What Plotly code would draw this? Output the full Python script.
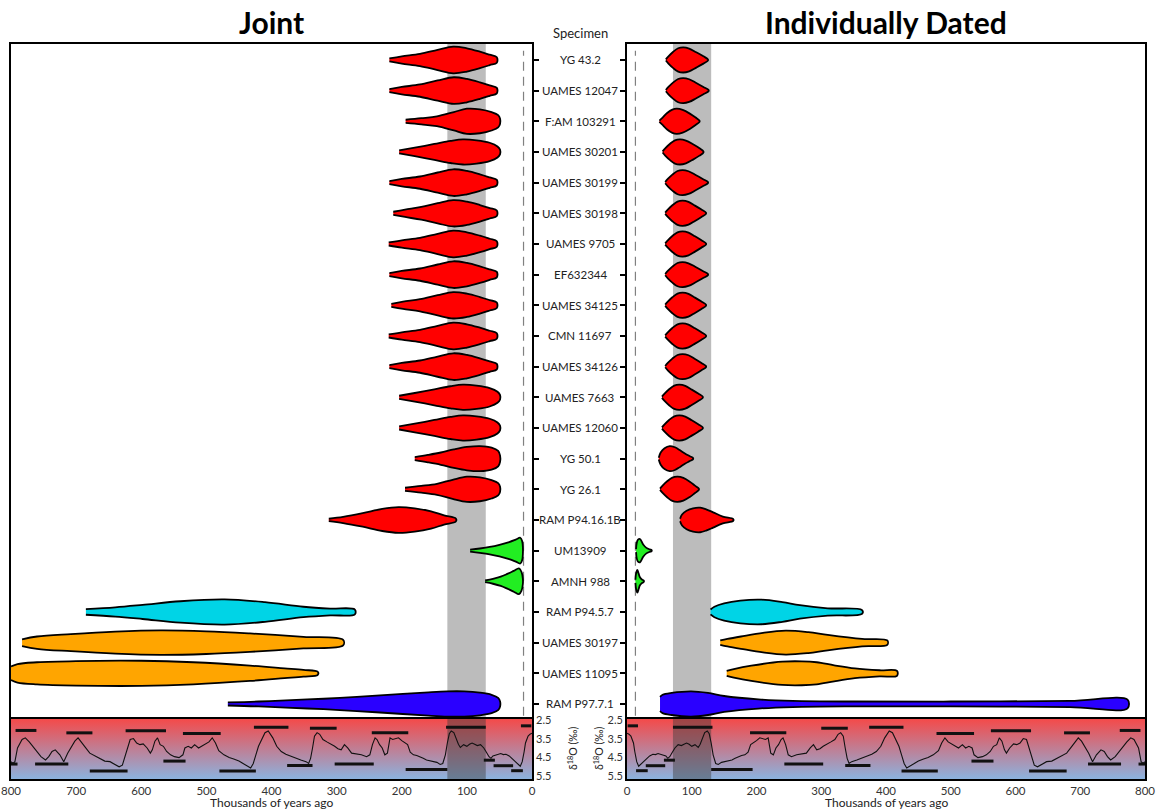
import plotly.graph_objects as go

W, H = 1156, 809

# ---------------- data ----------------
specimens = ["YG 43.2", "UAMES 12047", "F:AM 103291", "UAMES 30201", "UAMES 30199",
             "UAMES 30198", "UAMES 9705", "EF632344", "UAMES 34125", "CMN 11697",
             "UAMES 34126", "UAMES 7663", "UAMES 12060", "YG 50.1", "YG 26.1",
             "RAM P94.16.1B", "UM13909", "AMNH 988", "RAM P94.5.7", "UAMES 30197",
             "UAMES 11095", "RAM P97.7.1"]
colors = ["#ff0000"] * 16 + ["#22ee22"] * 2 + ["#00d4e6", "#ffa500", "#ffa500", "#2a00ff"]

# Joint: age knots (kyr) and half-widths (row units)
joint_ages = [
    [219, 200, 172, 145, 121, 100, 80, 65, 54],
    [219, 200, 172, 145, 120, 100, 80, 65, 54],
    [194, 170, 146, 120, 100, 80, 62, 52, 49],
    [204, 180, 150, 125, 106, 85, 65, 53, 49],
    [219, 200, 172, 145, 121, 100, 80, 65, 54],
    [213, 195, 170, 145, 121, 100, 80, 65, 54],
    [220, 200, 172, 145, 121, 100, 80, 65, 54],
    [219, 200, 172, 145, 121, 100, 80, 65, 54],
    [216, 198, 172, 145, 121, 100, 80, 65, 54],
    [220, 200, 172, 145, 121, 100, 80, 65, 54],
    [219, 200, 172, 145, 121, 100, 80, 65, 54],
    [204, 180, 150, 125, 106, 85, 65, 53, 49],
    [204, 180, 150, 125, 106, 85, 65, 53, 49],
    [180, 160, 140, 120, 100, 80, 62, 52, 49],
    [195, 170, 146, 122, 100, 80, 62, 52, 49],
    [312, 290, 260, 230, 205, 180, 155, 135, 117],
    [95, 80, 65, 50, 35, 25, 18, 15, 14],
    [72, 60, 48, 38, 28, 20, 16, 14],
    [685, 640, 598, 540, 472, 410, 351, 310, 272],
    [783, 760, 708, 640, 570, 500, 433, 351, 290],
    [800, 790, 760, 700, 600, 520, 433, 380, 351, 329],
    [467, 420, 378, 320, 269, 210, 159, 130, 104, 80, 62, 52, 49],
]
joint_hw = [
    [0.05, 0.12, 0.20, 0.33, 0.435, 0.38, 0.27, 0.17, 0.09],
    [0.05, 0.12, 0.20, 0.33, 0.435, 0.38, 0.27, 0.17, 0.09],
    [0.05, 0.10, 0.16, 0.30, 0.41, 0.39, 0.30, 0.20, 0.08],
    [0.05, 0.14, 0.26, 0.36, 0.41, 0.38, 0.30, 0.18, 0.07],
    [0.05, 0.12, 0.20, 0.33, 0.435, 0.38, 0.27, 0.17, 0.09],
    [0.05, 0.12, 0.21, 0.33, 0.43, 0.38, 0.27, 0.17, 0.09],
    [0.05, 0.12, 0.20, 0.33, 0.435, 0.38, 0.27, 0.17, 0.09],
    [0.05, 0.12, 0.20, 0.33, 0.435, 0.38, 0.27, 0.17, 0.09],
    [0.05, 0.12, 0.20, 0.33, 0.43, 0.38, 0.27, 0.17, 0.09],
    [0.05, 0.12, 0.20, 0.33, 0.435, 0.38, 0.27, 0.17, 0.09],
    [0.05, 0.12, 0.20, 0.33, 0.435, 0.38, 0.27, 0.17, 0.09],
    [0.05, 0.14, 0.26, 0.36, 0.41, 0.38, 0.30, 0.18, 0.07],
    [0.05, 0.14, 0.26, 0.36, 0.41, 0.38, 0.30, 0.18, 0.07],
    [0.05, 0.12, 0.20, 0.30, 0.38, 0.41, 0.36, 0.25, 0.10],
    [0.05, 0.11, 0.18, 0.31, 0.41, 0.39, 0.30, 0.20, 0.08],
    [0.04, 0.10, 0.22, 0.36, 0.42, 0.38, 0.28, 0.15, 0.05],
    [0.03, 0.07, 0.12, 0.19, 0.28, 0.36, 0.42, 0.30, 0.10],
    [0.03, 0.08, 0.15, 0.24, 0.34, 0.42, 0.30, 0.08],
    [0.09, 0.15, 0.23, 0.35, 0.41, 0.32, 0.17, 0.11, 0.08],
    [0.11, 0.20, 0.28, 0.36, 0.40, 0.37, 0.30, 0.19, 0.09],
    [0.22, 0.30, 0.36, 0.40, 0.41, 0.36, 0.25, 0.16, 0.11, 0.05],
    [0.05, 0.08, 0.12, 0.17, 0.23, 0.31, 0.38, 0.41, 0.41, 0.37, 0.30, 0.20, 0.08],
]

# Individually dated
indiv_ages = [
    [60, 64, 71, 79, 87, 96, 107, 118, 125],
    [60, 64, 71, 79, 87, 96, 107, 118, 126],
    [50, 55, 62, 70, 77, 86, 97, 106, 112],
    [55, 59, 66, 74, 82, 91, 102, 112, 118],
    [59, 63, 70, 78, 86, 95, 106, 117, 125],
    [59, 63, 70, 78, 86, 95, 105, 115, 122],
    [59, 63, 70, 78, 86, 95, 105, 115, 122],
    [59, 63, 70, 78, 86, 95, 106, 117, 125],
    [59, 63, 70, 78, 86, 95, 105, 115, 122],
    [59, 63, 70, 78, 86, 95, 105, 115, 122],
    [59, 63, 70, 78, 86, 95, 105, 115, 122],
    [54, 58, 65, 73, 81, 90, 100, 110, 117],
    [54, 58, 65, 73, 81, 90, 100, 110, 117],
    [49, 52, 58, 66, 74, 82, 90, 97, 102],
    [51, 55, 62, 70, 78, 87, 97, 105, 111],
    [82, 85, 92, 102, 113, 123, 133, 148, 164],
    [14, 15, 17, 20, 25, 30, 35, 38],
    [13, 14, 16, 18, 20, 23, 26],
    [129, 135, 150, 175, 208, 240, 267, 310, 363],
    [144, 155, 176, 210, 245, 280, 310, 363, 402],
    [154, 165, 192, 240, 270, 293, 320, 352, 390, 417],
    [51, 55, 69, 99, 125, 150, 203, 256, 350, 500, 684, 773],
]
indiv_hw = [
    [0.02, 0.12, 0.26, 0.38, 0.41, 0.37, 0.25, 0.12, 0.02],
    [0.02, 0.12, 0.26, 0.38, 0.41, 0.37, 0.25, 0.12, 0.02],
    [0.02, 0.12, 0.27, 0.38, 0.41, 0.37, 0.25, 0.12, 0.02],
    [0.02, 0.12, 0.26, 0.38, 0.41, 0.37, 0.25, 0.12, 0.02],
    [0.02, 0.12, 0.26, 0.38, 0.41, 0.37, 0.25, 0.12, 0.02],
    [0.02, 0.12, 0.26, 0.38, 0.41, 0.37, 0.25, 0.12, 0.02],
    [0.02, 0.12, 0.26, 0.38, 0.41, 0.37, 0.25, 0.12, 0.02],
    [0.02, 0.12, 0.26, 0.38, 0.41, 0.37, 0.25, 0.12, 0.02],
    [0.02, 0.12, 0.26, 0.38, 0.41, 0.37, 0.25, 0.12, 0.02],
    [0.02, 0.12, 0.26, 0.38, 0.41, 0.37, 0.25, 0.12, 0.02],
    [0.02, 0.12, 0.26, 0.38, 0.41, 0.37, 0.25, 0.12, 0.02],
    [0.02, 0.12, 0.26, 0.38, 0.41, 0.37, 0.25, 0.12, 0.02],
    [0.02, 0.12, 0.26, 0.38, 0.41, 0.37, 0.25, 0.12, 0.02],
    [0.03, 0.20, 0.34, 0.41, 0.37, 0.27, 0.16, 0.08, 0.02],
    [0.02, 0.12, 0.26, 0.38, 0.41, 0.37, 0.25, 0.12, 0.02],
    [0.04, 0.18, 0.30, 0.38, 0.40, 0.34, 0.25, 0.11, 0.03],
    [0.05, 0.25, 0.36, 0.38, 0.20, 0.09, 0.04, 0.02],
    [0.05, 0.25, 0.37, 0.25, 0.13, 0.06, 0.02],
    [0.08, 0.17, 0.28, 0.37, 0.40, 0.32, 0.22, 0.12, 0.06],
    [0.07, 0.12, 0.20, 0.32, 0.39, 0.34, 0.25, 0.12, 0.07],
    [0.08, 0.14, 0.25, 0.38, 0.39, 0.36, 0.26, 0.16, 0.10, 0.08],
    [0.23, 0.30, 0.36, 0.41, 0.36, 0.26, 0.15, 0.10, 0.08, 0.08, 0.10, 0.14],
]

# Last interglacial band and dashed reference (kyr)
band_start, band_end = 71, 130
dashed_age = 13

# benthic d18O record (kyr, per mil) read from the strip
d18o_age = [0, 3, 6, 10, 12, 15, 18, 21, 25, 30, 35, 40, 44, 48, 52, 56, 60, 63, 66, 70,
            74, 79, 84, 88, 92, 96, 100, 105, 110, 113, 116, 120, 124, 127, 130, 133, 137,
            141, 146, 151, 156, 162, 167, 172, 177, 182, 187, 191, 195, 200, 205, 210, 214,
            218, 222, 226, 230, 234, 238, 241, 245, 249, 254, 262, 270, 277, 283, 288, 293,
            298, 303, 308, 315, 321, 326, 330, 334, 337, 340, 343, 347, 355, 362, 370, 378,
            385, 392, 398, 403, 405, 410, 415, 420, 424, 428, 432, 437, 442, 450, 458, 465,
            473, 481, 486, 491, 496, 501, 507, 512, 518, 523, 528, 533, 536, 542, 549, 555,
            561, 566, 571, 575, 579, 583, 586, 591, 597, 602, 607, 612, 617, 621, 625, 629,
            634, 640, 648, 656, 664, 671, 679, 687, 693, 697, 702, 707, 713, 719, 725, 732,
            737, 742, 747, 754, 760, 765, 772, 778, 783, 790, 794, 797, 800]
d18o_val = [3.20, 3.25, 3.36, 3.73, 4.19, 4.74, 4.99, 4.89, 4.74, 4.56, 4.43, 4.34, 4.36,
            4.30, 4.35, 4.37, 4.43, 4.56, 4.47, 4.23, 4.00, 3.82, 3.87, 3.80, 3.73, 3.80,
            3.91, 3.82, 3.97, 3.80, 3.54, 3.17, 3.08, 3.23, 3.73, 4.37, 4.84, 4.89, 4.78,
            4.74, 4.71, 4.65, 4.56, 4.47, 4.41, 4.37, 4.23, 3.82, 3.73, 3.60, 3.45, 3.50,
            3.54, 3.45, 4.28, 4.37, 4.00, 3.82, 3.54, 3.45, 3.82, 4.37, 4.47, 4.37, 4.34,
            4.28, 4.00, 3.82, 4.10, 4.04, 3.91, 3.82, 3.67, 3.54, 3.26, 3.17, 3.36, 4.00,
            4.56, 4.84, 4.74, 4.65, 4.56, 4.43, 4.34, 4.19, 3.91, 3.45, 3.17, 3.08, 3.17,
            3.54, 3.91, 4.37, 4.84, 5.08, 4.97, 4.84, 4.71, 4.60, 4.52, 4.37, 4.15, 3.73,
            3.45, 3.67, 3.78, 3.91, 4.00, 3.82, 4.00, 3.91, 4.00, 4.37, 4.52, 4.47, 4.37,
            4.19, 3.91, 3.82, 3.45, 3.63, 4.10, 4.28, 4.00, 3.78, 3.82, 3.73, 3.49, 3.54,
            4.00, 4.56, 4.93, 5.02, 4.89, 4.74, 4.71, 4.56, 4.47, 4.28, 3.91, 3.60, 3.45,
            3.63, 3.91, 4.28, 4.74, 4.37, 4.10, 4.19, 4.47, 4.65, 4.47, 4.19, 4.00, 3.67,
            3.45, 3.54, 4.00, 4.74, 4.84, 4.74]

# stage bars in the strip: start, end (kyr), level (per mil)
bar_start = [1, 71, 190, 300, 374, 478, 562, 675, 761,
             14, 29, 57, 130, 243, 337, 424, 532, 621, 712, 790]
bar_end = [17, 132, 246, 341, 427, 536, 624, 715, 793,
           32, 59, 74, 194, 303, 376, 480, 566, 679, 763, 800]
bar_level = [2.80, 2.875, 3.17, 2.93, 2.875, 3.21, 3.07, 3.18, 3.05,
             5.23, 4.96, 4.66, 5.16, 4.87, 4.95, 5.25, 4.71, 5.25, 4.87, 4.87]

d18o_ticks = [2.5, 3.5, 4.5, 5.5]
age_ticks = [0, 100, 200, 300, 400, 500, 600, 700, 800]

# ---------------- figure ----------------
FONT = "Lato"
fig = go.Figure()


def add_violins(ages_list, hw_list, xa, ya):
    for i, (ages, hws) in enumerate(zip(ages_list, hw_list)):
        xs = list(ages) + list(ages[::-1])
        ys = [i - h for h in hws] + [i + h for h in hws[::-1]]
        fig.add_trace(go.Scatter(
            x=xs, y=ys, xaxis=xa, yaxis=ya, mode="lines", fill="toself",
            fillcolor=colors[i], line=dict(color="black", width=1.8, shape="spline", smoothing=1.0),
            hoverinfo="skip"))


add_violins(joint_ages, joint_hw, "x", "y")
add_violins(indiv_ages, indiv_hw, "x2", "y2")

ylo, yhi = 2.43, 5.68
for xa, ya in (("x3", "y3"), ("x4", "y4")):
    fig.add_trace(go.Scatter(
        x=[0, 800, 800, 0, 0], y=[ylo, ylo, yhi, yhi, ylo], xaxis=xa, yaxis=ya,
        mode="lines", line=dict(width=0), fill="toself",
        fillgradient=dict(type="vertical", start=ylo, stop=yhi,
                          colorscale=[[0, "#f44a4a"], [1, "#8bb3df"]]),
        hoverinfo="skip"))
    fig.add_trace(go.Scatter(
        x=[band_start, band_end, band_end, band_start, band_start],
        y=[ylo, ylo, yhi, yhi, ylo], xaxis=xa, yaxis=ya, mode="lines",
        line=dict(width=0), fill="toself", fillcolor="rgba(60,60,60,0.45)", hoverinfo="skip"))
    bx, by = [], []
    for s, e, v in zip(bar_start, bar_end, bar_level):
        bx += [s, e, None]
        by += [v, v, None]
    fig.add_trace(go.Scatter(x=bx, y=by, xaxis=xa, yaxis=ya, mode="lines",
                             line=dict(color="#111111", width=3), hoverinfo="skip"))
    fig.add_trace(go.Scatter(x=d18o_age, y=d18o_val, xaxis=xa, yaxis=ya, mode="lines",
                             line=dict(color="#111111", width=1.1), hoverinfo="skip"))

# layout geometry (pixels -> paper)
xl = [11 / W, 532 / W]
xr = [627 / W, 1145 / W]
yv = [1 - 719 / H, 1 - 44 / H]
ys = [1 - 779 / H, 1 - 719 / H]

frame = dict(showgrid=False, zeroline=False, showline=True, mirror=True,
             linecolor="black", linewidth=1.7, automargin=False)
rows = list(range(len(specimens)))
yrange = [len(specimens) - 0.51, -0.52]

fig.update_layout(
    width=W, height=H, margin=dict(l=0, r=0, t=0, b=0, autoexpand=False),
    paper_bgcolor="white", plot_bgcolor="white", showlegend=False,
    font=dict(family=FONT, color="#222222"),
    xaxis=dict(domain=xl, range=[800, 0], anchor="y", showticklabels=False, ticks="", **frame),
    yaxis=dict(domain=yv, range=yrange, anchor="x", side="right", tickvals=rows,
               showticklabels=False, ticks="outside", ticklen=5, tickwidth=1.5,
               tickcolor="black", **frame),
    xaxis2=dict(domain=xr, range=[0, 800], anchor="y2", showticklabels=False, ticks="", **frame),
    yaxis2=dict(domain=yv, range=yrange, anchor="x2", side="left", tickvals=rows,
                showticklabels=False, ticks="outside", ticklen=5, tickwidth=1.5,
                tickcolor="black", **frame),
    xaxis3=dict(domain=xl, range=[800, 0], anchor="y3", tickvals=age_ticks, ticks="",
                tickfont=dict(size=11.5, color="#333333"), **frame),
    yaxis3=dict(domain=ys, range=[yhi, ylo], anchor="x3", side="right", tickvals=d18o_ticks,
                ticktext=[str(t) for t in d18o_ticks], ticks="",
                tickfont=dict(size=11, color="#333333"), **frame),
    xaxis4=dict(domain=xr, range=[0, 800], anchor="y4", tickvals=age_ticks, ticks="",
                tickfont=dict(size=11.5, color="#333333"), **frame),
    yaxis4=dict(domain=ys, range=[yhi, ylo], anchor="x4", side="left", tickvals=d18o_ticks,
                ticktext=[str(t) for t in d18o_ticks], ticks="",
                tickfont=dict(size=11, color="#333333"), **frame),
)

shapes = []
for xa in ("x", "x2"):
    ydom = "y domain" if xa == "x" else "y2 domain"
    shapes.append(dict(type="rect", xref=xa, yref=ydom, x0=band_start, x1=band_end, y0=0, y1=1,
                       fillcolor="#bcbcbc", line=dict(width=0), layer="below"))
    shapes.append(dict(type="line", xref=xa, yref=ydom, x0=dashed_age, x1=dashed_age, y0=0.005, y1=0.99,
                       line=dict(color="#808080", width=1.2, dash="9px,6px"), layer="below"))
fig.update_layout(shapes=shapes)

ann = []
for i, name in enumerate(specimens):
    ann.append(dict(text=name, x=580 / W, xref="paper", y=i, yref="y", showarrow=False,
                    xanchor="center", yanchor="middle", font=dict(size=11.5, color="#222222")))
ann.append(dict(text="Specimen", x=580 / W, xref="paper", y=1 - 33 / H, yref="paper",
                showarrow=False, xanchor="center", yanchor="middle",
                font=dict(size=13, color="#222222")))
ann.append(dict(text="<b>Joint</b>", x=271 / W, xref="paper", y=1 - 22 / H, yref="paper",
                showarrow=False, xanchor="center", yanchor="middle",
                font=dict(size=30, color="black")))
ann.append(dict(text="<b>Individually Dated</b>", x=886 / W, xref="paper", y=1 - 22 / H,
                yref="paper", showarrow=False, xanchor="center", yanchor="middle",
                font=dict(size=30, color="black")))
for cx in (271, 886):
    ann.append(dict(text="Thousands of years ago", x=cx / W, xref="paper", y=1 - 802 / H,
                    yref="paper", showarrow=False, xanchor="center", yanchor="middle",
                    font=dict(size=12, color="#222222")))
for cx in (572, 598):
    ann.append(dict(text="δ<sup>18</sup>O (‰)", x=cx / W, xref="paper", y=1 - 749 / H,
                    yref="paper", showarrow=False, xanchor="center", yanchor="middle",
                    textangle=-90, font=dict(size=10.5, color="#222222")))
fig.update_layout(annotations=ann)

fig.write_html("out.html")
